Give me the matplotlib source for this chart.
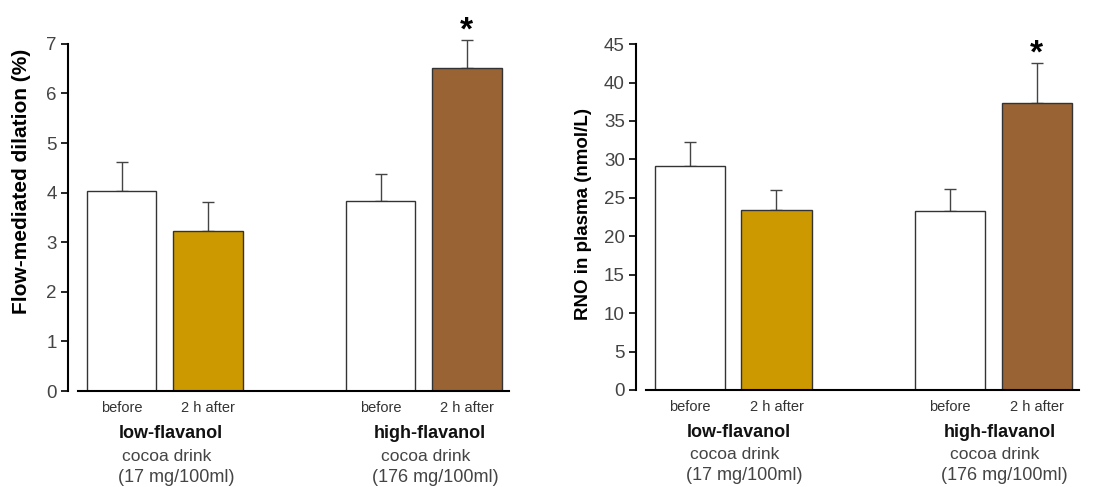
import matplotlib.pyplot as plt

plt.rcParams['font.family'] = ['Liberation Sans', 'DejaVu Sans']

# data
conditions = ['before', '2 h after', 'before', '2 h after']
groups = ['low-flavanol', 'high-flavanol']
doses = ['(17 mg/100ml)', '(176 mg/100ml)']
fmd_mean = [4.03, 3.23, 3.83, 6.52]
fmd_err = [0.59, 0.58, 0.54, 0.56]
rno_mean = [29.1, 23.4, 23.3, 37.3]
rno_err = [3.2, 2.6, 2.8, 5.3]
significant = [False, False, False, True]

positions = [0, 1, 3, 4]
group_mid = [0.5, 3.5]
colors = ['white', '#CC9900', 'white', '#9A6333']


def draw_panel(ax, means, errs, ylabel, ylabel_size, label_xy, ymax, ystep, ytop):
    ax.bar(positions, means, width=0.81, color=colors, edgecolor='#333333',
           linewidth=1.0, zorder=2)
    ax.errorbar(positions, means, yerr=[[0] * 4, errs], fmt='none',
                ecolor='#444444', elinewidth=1.0, capsize=4, capthick=1.0,
                zorder=1)
    for x, m, e, s in zip(positions, means, errs, significant):
        if s:
            ax.annotate('*', (x, m + e), xytext=(0, -5), textcoords='offset points',
                        ha='center', va='bottom', fontsize=24, fontweight='bold')

    ax.set_xlim(-0.62, 4.5)
    ax.set_ylim(0, ytop)
    for side in ['top', 'right']:
        ax.spines[side].set_visible(False)
    ax.spines['left'].set_bounds(0, ymax)
    ax.spines['left'].set_linewidth(1.5)
    ax.spines['bottom'].set_bounds(-0.5, 4.49)
    ax.spines['bottom'].set_linewidth(1.5)
    ax.set_yticks(range(0, ymax + 1, ystep))
    ax.tick_params(axis='y', direction='out', length=5, width=1.2,
                   labelsize=13.5, labelcolor='#444444', pad=3)
    ax.set_xticks(positions)
    ax.set_xticklabels(conditions, fontsize=10.5, color='#333333')
    ax.tick_params(axis='x', length=0, pad=7)
    ax.set_ylabel(ylabel, fontsize=ylabel_size, fontweight='bold')
    ax.yaxis.set_label_coords(*label_xy)

    trans = ax.get_xaxis_transform()
    for mid, g, d in zip(group_mid, groups, doses):
        ax.text(mid + 0.07, -0.115, g, transform=trans, ha='center', va='center',
                fontsize=13, fontweight='bold', color='#111111')
        ax.text(mid + 0.02, -0.175, 'cocoa drink', transform=trans, ha='center',
                va='center', fontsize=12.5, color='#444444')
        ax.text(mid + 0.13, -0.232, d, transform=trans, ha='center', va='center',
                fontsize=13, color='#444444')


fig = plt.figure(figsize=(11.17, 4.87), dpi=100)
ax1 = fig.add_axes([68 / 1117, 96 / 487, 442 / 1117, 372 / 487])
ax2 = fig.add_axes([636 / 1117, 97 / 487, 444 / 1117, 369 / 487])

draw_panel(ax1, fmd_mean, fmd_err, 'Flow-mediated dilation (%)', 15,
           (-0.083, 0.563), 7, 1, 7.5)
draw_panel(ax2, rno_mean, rno_err, 'RNO in plasma (nmol/L)', 13.5,
           (-0.1, 0.477), 45, 5, 48)

fig.savefig('out.png', dpi=100)
